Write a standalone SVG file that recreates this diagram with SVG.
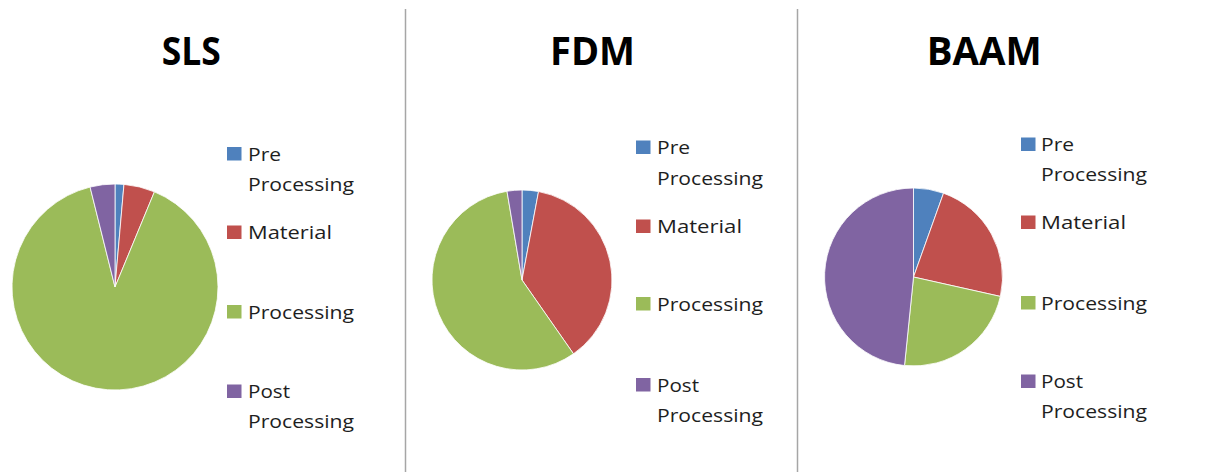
<svg xmlns="http://www.w3.org/2000/svg" width="1231" height="472" viewBox="0 0 1231 472">
<style>
.t{font-family:"Open Sans","Liberation Sans",sans-serif;font-weight:bold;font-size:40px;fill:#000}
.l{font-family:"Open Sans","Liberation Sans",sans-serif;font-size:19px;fill:#1e1e1e}
.s{stroke:#fff;stroke-width:0.8;stroke-linejoin:round}
.b{fill:#4F81BD}.r{fill:#C0504D}.g{fill:#9BBB59}.p{fill:#8064A2}
.d{stroke:#a6a6a6;stroke-width:1.5}
</style>
<rect width="1231" height="472" fill="#fff"/>
<g id="dividers">
<line class="d" x1="405.5" y1="9" x2="405.5" y2="472"/>
<line class="d" x1="797.5" y1="9" x2="797.5" y2="472"/>
</g>
<g id="sls">
<text class="t" x="161.7" y="65" textLength="59" lengthAdjust="spacingAndGlyphs">SLS</text>
<path class="s b" d="M115,287 L115,184 A103,103 0 0 1 123.98,184.39 Z"/>
<path class="s r" d="M115,287 L123.98,184.39 A103,103 0 0 1 154.42,191.84 Z"/>
<path class="s g" d="M115,287 L154.42,191.84 A103,103 0 1 1 90.08,187.06 Z"/>
<path class="s p" d="M115,287 L90.08,187.06 A103,103 0 0 1 115,184 Z"/>
<rect class="b" x="227" y="147" width="14.5" height="13.5"/>
<text class="l" x="248" y="161" textLength="33" lengthAdjust="spacingAndGlyphs">Pre</text>
<text class="l" x="248" y="191" textLength="106" lengthAdjust="spacingAndGlyphs">Processing</text>
<rect class="r" x="227" y="225.5" width="14.5" height="13.5"/>
<text class="l" x="248" y="239.3" textLength="84" lengthAdjust="spacingAndGlyphs">Material</text>
<rect class="g" x="227" y="305" width="14.5" height="13.5"/>
<text class="l" x="248" y="319" textLength="106" lengthAdjust="spacingAndGlyphs">Processing</text>
<rect class="p" x="227" y="384.5" width="14.5" height="13.5"/>
<text class="l" x="248" y="398.3" textLength="42" lengthAdjust="spacingAndGlyphs">Post</text>
<text class="l" x="248" y="428" textLength="106" lengthAdjust="spacingAndGlyphs">Processing</text>
</g>
<g id="fdm">
<text class="t" x="550" y="65" textLength="85" lengthAdjust="spacingAndGlyphs">FDM</text>
<path class="s b" d="M522,280 L522,190 A90,90 0 0 1 538.56,191.54 Z"/>
<path class="s r" d="M522,280 L538.56,191.54 A90,90 0 0 1 573.49,353.81 Z"/>
<path class="s g" d="M522,280 L573.49,353.81 A90,90 0 1 1 506.99,191.26 Z"/>
<path class="s p" d="M522,280 L506.99,191.26 A90,90 0 0 1 522,190 Z"/>
<rect class="b" x="636" y="140.5" width="14.5" height="13.5"/>
<text class="l" x="657" y="154.3" textLength="33" lengthAdjust="spacingAndGlyphs">Pre</text>
<text class="l" x="657" y="185" textLength="106" lengthAdjust="spacingAndGlyphs">Processing</text>
<rect class="r" x="636" y="219.5" width="14.5" height="13.5"/>
<text class="l" x="657" y="233.3" textLength="85" lengthAdjust="spacingAndGlyphs">Material</text>
<rect class="g" x="636" y="297" width="14.5" height="13.5"/>
<text class="l" x="657" y="311" textLength="106" lengthAdjust="spacingAndGlyphs">Processing</text>
<rect class="p" x="636" y="378" width="14.5" height="13.5"/>
<text class="l" x="657" y="391.7" textLength="42" lengthAdjust="spacingAndGlyphs">Post</text>
<text class="l" x="657" y="421.7" textLength="106" lengthAdjust="spacingAndGlyphs">Processing</text>
</g>
<g id="baam">
<text class="t" x="926.7" y="65" textLength="115" lengthAdjust="spacingAndGlyphs">BAAM</text>
<path class="s b" d="M913.5,277 L913.5,188 A89,89 0 0 1 943.5,193.21 Z"/>
<path class="s r" d="M913.5,277 L943.5,193.21 A89,89 0 0 1 1000.36,296.41 Z"/>
<path class="s g" d="M913.5,277 L1000.36,296.41 A89,89 0 0 1 904.51,365.54 Z"/>
<path class="s p" d="M913.5,277 L904.51,365.54 A89,89 0 0 1 913.5,188 Z"/>
<rect class="b" x="1021" y="137.5" width="14.5" height="13.5"/>
<text class="l" x="1041" y="151" textLength="33" lengthAdjust="spacingAndGlyphs">Pre</text>
<text class="l" x="1041" y="181" textLength="106" lengthAdjust="spacingAndGlyphs">Processing</text>
<rect class="r" x="1021" y="215.5" width="14.5" height="13.5"/>
<text class="l" x="1041" y="229" textLength="85" lengthAdjust="spacingAndGlyphs">Material</text>
<rect class="g" x="1021" y="296" width="14.5" height="13.5"/>
<text class="l" x="1041" y="310" textLength="106" lengthAdjust="spacingAndGlyphs">Processing</text>
<rect class="p" x="1021" y="374.5" width="14.5" height="13.5"/>
<text class="l" x="1041" y="388.3" textLength="42" lengthAdjust="spacingAndGlyphs">Post</text>
<text class="l" x="1041" y="417.7" textLength="106" lengthAdjust="spacingAndGlyphs">Processing</text>
</g>
</svg>
